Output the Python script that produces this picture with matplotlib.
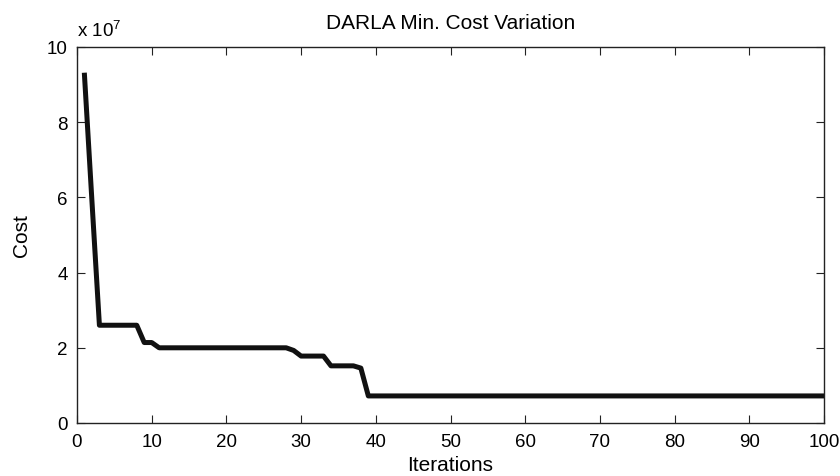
import matplotlib
matplotlib.use('Agg')
import matplotlib.pyplot as plt

plt.rcParams['font.family'] = ['Liberation Sans', 'DejaVu Sans']
plt.rcParams['mathtext.default'] = 'regular'

# min cost per iteration (units of 1e7)
iterations = list(range(1, 101))
cost = ([9.25, 5.9]
        + [2.6] * 6            # 3-8
        + [2.14, 2.14]         # 9-10
        + [2.0] * 18           # 11-28
        + [1.93]               # 29
        + [1.78] * 4           # 30-33
        + [1.52] * 4           # 34-37
        + [1.46]               # 38
        + [0.72] * 62)         # 39-100
cost = [c * 1e7 for c in cost]

fs_tick = 13.5
fs_lab = 15
fig = plt.figure(figsize=(8.4, 4.77), dpi=100)
ax = fig.add_axes([77 / 840, 53 / 477, 747 / 840, 376 / 477])
ax.plot(iterations, cost, color='#111111', linewidth=3.6)

ax.set_xlim(0, 100)
ax.set_ylim(0, 10e7)
ax.set_xticks(range(0, 101, 10))
ax.set_yticks([0, 2e7, 4e7, 6e7, 8e7, 10e7])
ax.set_yticklabels(['0', '2', '4', '6', '8', '10'])
ax.tick_params(direction='in', top=True, right=True, labelsize=fs_tick, length=6, width=0.8, color='#222222')
ax.tick_params(axis='x', pad=7)
ax.tick_params(axis='y', pad=6.5)
for s in ax.spines.values():
    s.set_linewidth(1.0)
    s.set_color('#222222')

ax.set_xlabel('Iterations', fontsize=fs_lab)
ax.xaxis.set_label_coords(0.5, -0.085)
ax.set_ylabel('Cost', fontsize=fs_lab)
ax.yaxis.set_label_coords(-0.062, 0.5)
ax.set_title('DARLA Min. Cost Variation', fontsize=fs_lab, pad=14)
ax.text(0.0, 1.029, r'x 10$^{7}$', transform=ax.transAxes, fontsize=fs_tick, va='baseline', ha='left')

fig.savefig('out.png', dpi=100)
